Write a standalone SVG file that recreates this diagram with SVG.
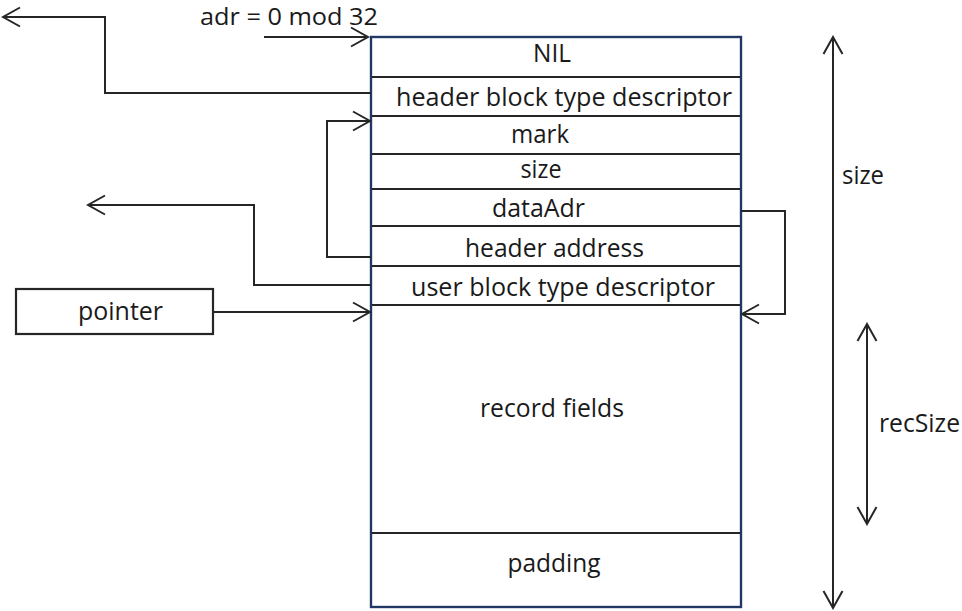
<svg xmlns="http://www.w3.org/2000/svg" width="962" height="611" viewBox="0 0 962 611">
  <defs>
    <style>
      text { font-family: "Open Sans", "Noto Sans", "DejaVu Sans", sans-serif; font-size: 25px; fill: #1a1a1a; }
      .c { text-anchor: middle; }
      .wire { fill: none; stroke: #262626; stroke-width: 2; }
      .div { stroke: #262626; stroke-width: 2; }
      .frame { fill: #ffffff; stroke: #203864; stroke-width: 2.2; }
      .box { fill: #ffffff; stroke: #262626; stroke-width: 2.2; }
    </style>
    <marker id="open" viewBox="0 0 20 22" markerWidth="20" markerHeight="22" refX="18" refY="11" orient="auto-start-reverse" markerUnits="userSpaceOnUse">
      <path d="M1,1.5 L18,11 L1,20.5" fill="none" stroke="#262626" stroke-width="2"/>
    </marker>
  </defs>

  <!-- memory block -->
  <g id="block">
    <rect class="frame" x="371" y="37" width="370" height="570"/>
    <line class="div" x1="371" y1="77" x2="741" y2="77"/>
    <line class="div" x1="371" y1="116" x2="741" y2="116"/>
    <line class="div" x1="371" y1="154" x2="741" y2="154"/>
    <line class="div" x1="371" y1="189" x2="741" y2="189"/>
    <line class="div" x1="371" y1="226" x2="741" y2="226"/>
    <line class="div" x1="371" y1="266" x2="741" y2="266"/>
    <line class="div" x1="371" y1="305" x2="741" y2="305"/>
    <line class="div" x1="371" y1="533" x2="741" y2="533"/>
    <rect x="371" y="37" width="370" height="570" fill="none" stroke="#203864" stroke-width="2.2"/>
  </g>
  <g id="nil"><text class="c" x="552" y="62" textLength="38" lengthAdjust="spacingAndGlyphs">NIL</text></g>
  <g id="header-tag"><text class="c" x="564" y="106" textLength="336" lengthAdjust="spacingAndGlyphs">header block type descriptor</text></g>
  <g id="mark"><text class="c" x="540" y="143" textLength="58" lengthAdjust="spacingAndGlyphs">mark</text></g>
  <g id="size-field"><text class="c" x="541" y="178" textLength="41" lengthAdjust="spacingAndGlyphs">size</text></g>
  <g id="data-adr"><text class="c" x="538.5" y="217" textLength="93" lengthAdjust="spacingAndGlyphs">dataAdr</text></g>
  <g id="header-adr"><text class="c" x="554.5" y="257" textLength="179" lengthAdjust="spacingAndGlyphs">header address</text></g>
  <g id="user-tag"><text class="c" x="563" y="296" textLength="304" lengthAdjust="spacingAndGlyphs">user block type descriptor</text></g>
  <g id="record"><text class="c" x="552" y="417" textLength="144" lengthAdjust="spacingAndGlyphs">record fields</text></g>
  <g id="padding"><text class="c" x="554" y="572" textLength="93" lengthAdjust="spacingAndGlyphs">padding</text></g>

  <g id="pointer">
    <rect class="box" x="16" y="289" width="197" height="45"/>
    <text class="c" x="120.5" y="320" textLength="85" lengthAdjust="spacingAndGlyphs">pointer</text>
  </g>

  <g id="labels">
    <text x="200" y="25" style="font-size:24px" textLength="178" lengthAdjust="spacingAndGlyphs">adr = 0 mod 32</text>
    <text x="842" y="184" textLength="42" lengthAdjust="spacingAndGlyphs">size</text>
    <text x="879" y="432" textLength="81" lengthAdjust="spacingAndGlyphs">recSize</text>
  </g>

  <g id="connectors">
    <!-- aligned start address -->
    <line class="wire" x1="264" y1="37" x2="368" y2="37" marker-end="url(#open)"/>
    <!-- header block tag points out to its descriptor -->
    <polyline class="wire" points="371,93 105,93 105,17 3,17" marker-end="url(#open)"/>
    <!-- header address loops back to the header -->
    <polyline class="wire" points="371,257 327,257 327,121 370,121" marker-end="url(#open)"/>
    <!-- user block tag points out to its descriptor -->
    <polyline class="wire" points="371,285 254,285 254,205 88,205" marker-end="url(#open)"/>
    <!-- pointer to record data -->
    <line class="wire" x1="213" y1="312" x2="370" y2="312" marker-end="url(#open)"/>
    <!-- dataAdr refers to record data -->
    <polyline class="wire" points="741,211 785,211 785,314 742,314" marker-end="url(#open)"/>
    <!-- extent of whole block -->
    <line class="wire" x1="833" y1="37" x2="833" y2="608" marker-start="url(#open)" marker-end="url(#open)"/>
    <!-- extent of record -->
    <line class="wire" x1="867" y1="324" x2="867" y2="524" marker-start="url(#open)" marker-end="url(#open)"/>
  </g>
</svg>
